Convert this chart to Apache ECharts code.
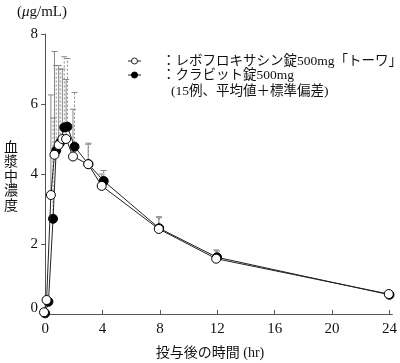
<!DOCTYPE html>
<html><head><meta charset="utf-8">
<script src="https://cdn.jsdelivr.net/npm/echarts@6/dist/echarts.min.js"></script>
<style>html,body{margin:0;padding:0;background:#fff}#c{width:400px;height:363px}</style>
</head><body><div id="c"></div>
<script>
const xTicks = [0, 4, 8, 12, 16, 20, 24];
const yTicks = [0, 2, 4, 6, 8];
// レボフロキサシン錠500mg「トーワ」 (open circles)
const timeOpen  = [-0.08, 0.10, 0.40, 0.65, 0.94, 1.20, 1.46, 1.94, 3.00, 3.94, 7.92, 11.92, 23.95];
const meanOpen  = [0.05, 0.40, 3.40, 4.55, 4.83, 5.00, 5.00, 4.50, 4.28, 3.66, 2.43, 1.58, 0.57];
const upperOpen = [null, null, 6.26, 7.50, 7.10, 7.00, 6.70, 5.85, 4.85, 4.00, 2.78, 1.83, 0.62];
// クラビット錠500mg (filled circles)
const timeCla  = [0.00, 0.23, 0.55, 0.77, 1.05, 1.33, 1.55, 2.05, 3.02, 4.08, 7.95, 11.98, 24.00];
const meanCla  = [0.02, 0.35, 2.72, 4.67, 4.90, 5.33, 5.35, 4.78, 4.28, 3.80, 2.45, 1.62, 0.55];
const upperCla = [null, null, 5.60, 7.10, 7.00, 7.35, 7.30, 6.33, 4.88, 4.10, 2.75, 1.80, 0.60];

const SERIF = "'Liberation Serif','Noto Sans CJK JP',serif";
const chart = echarts.init(document.getElementById('c'), null, {renderer: 'canvas'});

function errSeries(t, m, u, dashed, color) {
  const data = t.map((x, i) => [x, m[i], u[i]]).filter(d => d[2] != null);
  return {
    type: 'custom', z: 1, silent: true,
    renderItem: (params, api) => {
      const p0 = api.coord([api.value(0), api.value(1)]);
      const p1 = api.coord([api.value(0), api.value(2)]);
      return {type: 'group', children: [
        {type: 'line', shape: {x1: p0[0], y1: p0[1], x2: p1[0], y2: p1[1]},
         style: {stroke: color, lineWidth: 1, lineDash: dashed ? [2, 2] : null}},
        {type: 'line', shape: {x1: p1[0] - 3, y1: p1[1], x2: p1[0] + 3, y2: p1[1]},
         style: {stroke: color, lineWidth: 1}}
      ]};
    },
    data: data,
    encode: {x: 0, y: [1, 2]}
  };
}

const legendFont = {fontFamily: SERIF, fontSize: 13.5, fill: '#111'};

chart.setOption({
  animation: false,
  grid: {left: 43, right: 4, top: 34, bottom: 49, containLabel: false},
  xAxis: {
    type: 'value', min: -0.15, max: 24.2,
    axisLine: {show: true, lineStyle: {color: '#555', width: 1}},
    axisTick: {show: true, inside: true, length: 4, customValues: xTicks, lineStyle: {color: '#555'}},
    axisLabel: {customValues: xTicks, fontFamily: SERIF, fontSize: 15, color: '#111', margin: 8},
    splitLine: {show: false}
  },
  yAxis: {
    type: 'value', min: 0, max: 8, interval: 2,
    axisLine: {show: true, lineStyle: {color: '#555', width: 1}},
    axisTick: {show: true, inside: false, length: 4, lineStyle: {color: '#555'}},
    axisLabel: {fontFamily: SERIF, fontSize: 15, color: '#111', margin: 5,
      formatter: v => v === 0 ? '{z|0}' : String(v),
      rich: {z: {fontFamily: SERIF, fontSize: 15, color: '#111', padding: [0, 0, 12, 0]}}},
    splitLine: {show: false}
  },
  graphic: [
    {type: 'text', left: 17, top: 5, style: {text: '({i|μ}g/mL)', font: '15px ' + SERIF, fill: '#111',
      rich: {i: {fontStyle: 'italic', fontFamily: SERIF, fontSize: 15, fill: '#111'}}}},
    {type: 'text', x: 11, y: 177, style: {text: '血\n漿\n中\n濃\n度', fontFamily: SERIF, fontSize: 14,
      lineHeight: 14.5, fill: '#111', align: 'center', verticalAlign: 'middle'}},
    {type: 'text', x: 210, y: 353, style: {text: '投与後の時間 (hr)', fontFamily: SERIF, fontSize: 14,
      fill: '#111', align: 'center', verticalAlign: 'middle'}},
    // legend row 1
    {type: 'line', shape: {x1: 128, y1: 61, x2: 141, y2: 61}, style: {stroke: '#222', lineWidth: 1}},
    {type: 'circle', shape: {cx: 134.5, cy: 61, r: 3}, style: {fill: '#fff', stroke: '#222', lineWidth: 1}},
    {type: 'text', x: 162, y: 61, style: Object.assign({text: '：レボフロキサシン錠500mg「トーワ」', verticalAlign: 'middle'}, legendFont)},
    // legend row 2
    {type: 'line', shape: {x1: 128, y1: 75, x2: 141, y2: 75}, style: {stroke: '#222', lineWidth: 1}},
    {type: 'circle', shape: {cx: 134.5, cy: 75, r: 3}, style: {fill: '#000', stroke: '#000', lineWidth: 1}},
    {type: 'text', x: 162, y: 75, style: Object.assign({text: '：クラビット錠500mg', verticalAlign: 'middle'}, legendFont)},
    // legend row 3
    {type: 'text', x: 171, y: 91, style: Object.assign({text: '(15例、平均値＋標準偏差)', verticalAlign: 'middle'}, legendFont)}
  ],
  series: [
    errSeries(timeOpen, meanOpen, upperOpen, false, '#888'),
    errSeries(timeCla, meanCla, upperCla, true, '#888'),
    {
      type: 'line', name: 'クラビット錠500mg', z: 2,
      data: timeCla.map((x, i) => [x, meanCla[i]]),
      symbol: 'circle', symbolSize: 9,
      lineStyle: {color: '#222', width: 1},
      itemStyle: {color: '#000', borderColor: '#000', borderWidth: 1}
    },
    {
      type: 'line', name: 'レボフロキサシン錠500mg「トーワ」', z: 3,
      data: timeOpen.map((x, i) => [x, meanOpen[i]]),
      symbol: 'circle', symbolSize: 9,
      lineStyle: {color: '#222', width: 1},
      itemStyle: {color: '#fff', borderColor: '#000', borderWidth: 1}
    }
  ]
});
</script>
</body></html>
